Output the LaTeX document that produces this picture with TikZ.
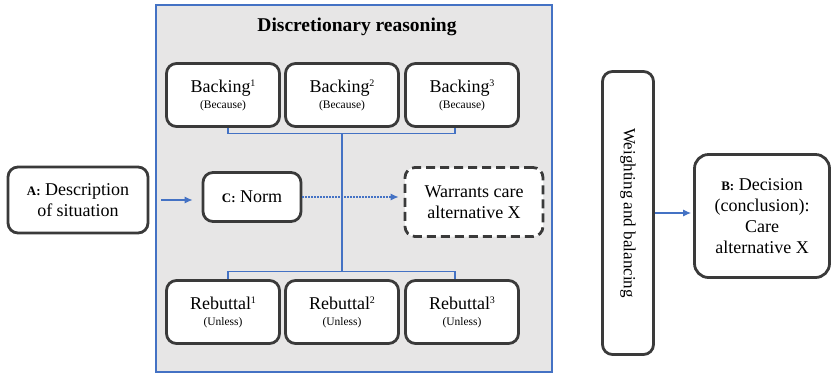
\documentclass[tikz,border=0pt]{standalone}
\usepackage{tikz}
\usetikzlibrary{positioning,arrows.meta}
\usepackage{fontspec}
\setmainfont{Liberation Serif}
\definecolor{lineblue}{RGB}{68,114,196}
\definecolor{boxgray}{RGB}{231,230,230}
\definecolor{edge}{RGB}{58,58,58}
\newcommand{\tag}[1]{{\fontsize{13}{15}\selectfont\bfseries #1}}
\newcommand{\sm}[1]{{\fontsize{11.5}{13}\selectfont #1}}
\newcommand{\up}[1]{\raisebox{6pt}{\fontsize{10}{11}\selectfont #1}}

\begin{document}
\begin{tikzpicture}[x=1pt, y=-1pt,
		every node/.style={draw=edge, line width=2.8pt, rounded corners=10pt, fill=white, align=center, inner sep=0pt, font=\fontsize{18}{21}\selectfont},
		part/.style={minimum width=113pt, minimum height=63pt},
		link/.style={draw=lineblue, line width=1.1pt},
		>={Latex[length=8pt,width=7pt]}
		]
		\useasboundingbox (0,0) rectangle (832,376);
		\draw[lineblue, line width=1.2pt, fill=boxgray] (156,5) rectangle (552,372);
		\node[draw=none, fill=none, font=\fontsize{19.5}{22}\selectfont\bfseries] (title) at (357,27) {Discretionary reasoning};
		\node[part] (back1) at (223,95) {Backing\up{1}\\[-5pt]\sm{(Because)}};
		\node[part] (back2) at (342,95) {Backing\up{2}\\[-5pt]\sm{(Because)}};
		\node[part] (back3) at (462,95) {Backing\up{3}\\[-5pt]\sm{(Because)}};
		\node[part] (reb1) at (223,312) {Rebuttal\up{1}\\[-5pt]\sm{(Unless)}};
		\node[part] (reb2) at (342,312) {Rebuttal\up{2}\\[-5pt]\sm{(Unless)}};
		\node[part] (reb3) at (462,312) {Rebuttal\up{3}\\[-5pt]\sm{(Unless)}};
		\node[minimum width=140pt, minimum height=66pt] (a) at (78,200) {\tag{A:} Description\\of situation};
		\node[minimum width=98pt, minimum height=49pt] (c) at (252,197) {\tag{C:} Norm};
		\node[minimum width=138pt, minimum height=69pt, dash pattern=on 9pt off 5pt] (w) at (474,202) {Warrants care\\alternative X};
		\node[minimum width=283pt, minimum height=51pt, rotate=-90, font=\fontsize{17}{20}\selectfont] (wb) at (628,213) {Weighting and balancing};
		\node[minimum width=135pt, minimum height=123pt, rounded corners=14pt] (b) at (762,216) {\tag{B:} Decision\\(conclusion):\\Care\\alternative X};
		\draw[link] ([xshift=5pt]back1.south) -- ++(0,6) -| ([xshift=-7pt]back3.south);
		\draw[link] ([xshift=5pt]reb1.north) -- ++(0,-8) -| ([xshift=-7pt]reb3.north);
		\draw[link] ([yshift=-6pt]back2.south) -- ([yshift=8pt]reb2.north);
		\draw[link, ->, shorten <=12pt] (a) to ([xshift=-9pt]c.west |- a.east);
		\draw[link, ->, line width=1.1pt, dash pattern=on 2pt off 1pt] (c) to ([xshift=-5pt]w.west |- c.east);
		\draw[link, ->] (wb) to ([xshift=-2pt]b.west |- wb.south);
	\end{tikzpicture}
\end{document}
